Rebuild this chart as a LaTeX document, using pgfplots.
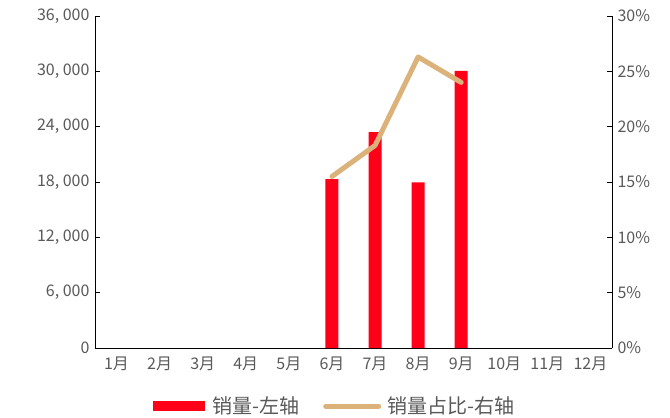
\documentclass[border=0pt]{standalone}
\usepackage{fontspec}
\setmainfont{Noto Sans CJK SC}
\usepackage{pgfplots}
\pgfplotsset{compat=1.18}
\definecolor{barred}{HTML}{FF0018}
\definecolor{linetan}{HTML}{DBB27A}
\definecolor{lblgray}{HTML}{595959}

\pgfplotstableread{
x sales share
6 18300 15.5
7 23400 18.3
8 17950 26.3
9 30050 24.0
}\sales

\begin{document}
\begin{tikzpicture}
\path[use as bounding box] (-95pt,-70pt) rectangle (575pt,348pt);
\pgfplotsset{
  every axis/.append style={
    scale only axis,
    width=517pt, height=332pt,
    xmin=0.5, xmax=12.5,
    ymin=0,
    scaled y ticks=false,
    /pgf/number format/assume math mode=true,
    tick label style={font=\fontsize{16}{18}\selectfont, text=lblgray},
    tick style={black, line width=0.8pt},
    axis line style={black, line width=0.8pt},
    major tick length=5pt,
  },
}
\begin{axis}[
  axis x line*=bottom,
  axis y line*=left,
  ymax=36000,
  ytick={0,6000,...,36000},
  yticklabels={0,{6, 000},{12, 000},{18, 000},{24, 000},{30, 000},{36, 000}},
  xtick={1,...,12},
  xticklabels={1月,2月,3月,4月,5月,6月,7月,8月,9月,10月,11月,12月},
  x tick style={draw=none},
  minor xtick={1.5,2.5,...,11.5},
  minor tick length=5pt,
  minor x tick style={black, line width=0.8pt},
  xticklabel style={yshift=-5pt},
  yticklabel style={xshift=-2pt},
]
\addplot[ybar, bar width=13pt, fill=barred, draw=none] table[x=x, y=sales] {\sales};
\end{axis}
\begin{axis}[
  axis y line*=right,
  axis x line=none,
  ymax=30,
  ytick={0,5,...,30},
  yticklabel={\pgfmathprintnumber{\tick}\%},
  yticklabel style={xshift=2pt},
  legend style={
    at={(0.5,-0.135)}, anchor=north, xshift=-19pt,
    draw=none, fill=none,
    legend columns=2,
    font=\fontsize{20}{22}\selectfont, text=lblgray,
    /tikz/every even column/.append style={column sep=22pt},
  },
  legend cell align=left,
]
\addlegendimage{legend image code/.code={
  \fill[barred] (0pt,-4.5pt) rectangle (51pt,4.5pt);
  \path (57pt,0pt);}}
\addlegendentry{销量-左轴}
\addplot[linetan, line width=5pt, line cap=round, line join=round,
  legend image code/.code={
    \draw[linetan, line width=5pt, line cap=round] (2pt,0pt) -- (55pt,0pt);
    \path (59pt,0pt);}]
  table[x=x, y=share] {\sales};
\addlegendentry{销量占比-右轴}
\end{axis}
\end{tikzpicture}
\end{document}
